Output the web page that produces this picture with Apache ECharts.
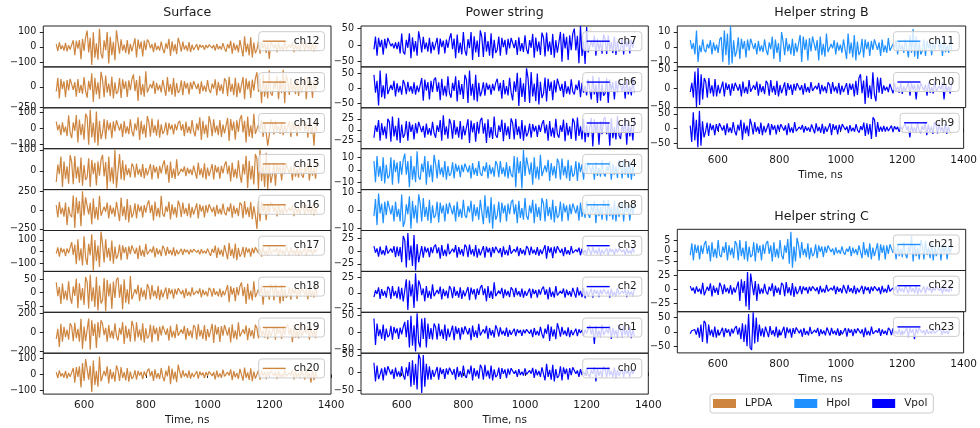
<!DOCTYPE html>
<html><head><meta charset="utf-8">
<script src="https://cdn.jsdelivr.net/npm/echarts@6/dist/echarts.min.js"></script>
<style>html,body{margin:0;padding:0;background:#fff}#c{width:980px;height:428px}</style>
</head><body><div id="c"></div>
<script>
// ---------- data ----------
const timeStart = 510;   // ns, first sample
const sampleStep = 5;    // ns between samples
const timeTicks = [600, 800, 1000, 1200, 1400];

const surfaceChannels = ['ch12','ch13','ch14','ch15','ch16','ch17','ch18','ch19','ch20'];
const powerChannels   = ['ch7','ch6','ch5','ch4','ch8','ch3','ch2','ch1','ch0'];
const helperBChannels = ['ch11','ch10','ch9'];
const helperCChannels = ['ch21','ch22','ch23'];
const antennaTypes = ['LPDA','Hpol','Vpol'];
const hpolChannels = ['ch4','ch8','ch11','ch21'];

const ch12 = [18,-27,30,-15,9,-24,27,-30,12,-18, -22,44,-55,40,-12,45,-81,54,-27,63, 108,-36,60,-120,96,-72,24,-84,120,-48, -77,44,-22,99,-110,66,-55,33,-88,110, 30,-45,50,-25,15,-40,45,-50,20,-30, -28,56,-70,49,-14,35,-63,42,-21,49, 32,-10,18,-35,28,-21,7,-24,35,-14, -42,24,-12,54,-60,36,-30,18,-48,60, 21,-32,35,-18,10,-28,32,-35,14,-21, -9,18,-22,15,-4,11,-20,13,-7,15, 22,-8,12,-25,20,-15,5,-18,25,-10, -32,18,-9,40,-45,27,-22,14,-36,45, 42,-63,70,-35,21,-56,63,-70,28,-42, -18,36,-45,32,-9,22,-40,27,-80,32, 32,-10,18,-35,28,-21,7,-24,35,-14, -24,14,-7,32,-35,21,-18,10,-28,35, 18,-27,30,-15,9,-24,27,-30,12,-18];
const ch13 = [-56,112,-140,98,-28,70,-126,84,-42,98, 108,-36,60,-120,96,-72,24,-84,120,-48, -130,74,-37,166,-185,111,-92,56,-148,185, 84,-126,140,-70,42,-112,126,-140,56,-84, -54,108,-135,94,-27,68,-122,81,-40,94, 153,-51,85,-170,136,-102,34,-119,190,-68, -60,34,-17,76,-85,51,-42,26,-68,85, 72,-108,120,-60,36,-96,108,-120,48,-72, -40,80,-100,70,-20,50,-90,60,-30,70, 76,-26,42,-85,68,-51,17,-60,85,-34, -74,42,-21,94,-105,63,-52,32,-84,105, 75,-112,125,-62,38,-100,112,-125,50,-75, -60,120,-150,105,-30,75,-135,90,-45,105, 180,-60,100,-200,160,-120,40,-140,205,-80, -105,60,-30,135,-150,90,-75,210,-198,150, 66,-99,110,-55,33,-88,99,-110,44,-66, -60,120,-150,105,-30,75,-135,90,-45,105];
const ch14 = [40,-14,22,-45,36,-27,9,-50,80,-30, -63,36,-18,81,-90,54,-45,27,-72,90, 69,-104,115,-58,35,-92,104,-110,46,-69, -28,56,-70,49,-14,35,-63,42,-21,49, 50,-16,28,-55,44,-33,11,-38,55,-22, -52,30,-15,68,-75,45,-38,22,-60,75, 36,-54,60,-30,18,-48,54,-60,24,-36, -18,36,-45,32,-9,22,-40,27,-14,32, 45,-15,25,-50,40,-30,10,-35,50,-20, -52,30,-15,68,-75,45,-38,22,-60,75, 33,-50,55,-28,16,-44,50,-55,22,-33, -32,64,-80,56,-16,40,-72,48,-24,56, 81,-27,45,-90,72,-54,18,-63,90,-36, -38,22,-11,50,-55,33,-28,-110,-44,55, 27,-40,45,-22,14,-36,40,-45,18,-27, -22,44,-55,38,-11,28,-50,33,-16,38, 54,-18,30,-60,48,-36,12,-110,60,-24];
const ch15 = [-52,30,-15,68,-75,45,-38,22,-60,75, 42,-63,70,-35,21,-56,63,-70,28,-42, -30,60,-75,52,-15,38,-68,45,-22,52, 76,-26,42,-85,68,-51,17,-60,100,-80, -85,80,-40,50,-45,30,-20,12,-30,35, 21,-32,35,-18,10,-28,32,-35,14,-21, -16,32,-40,28,-8,20,-36,24,-12,28, 50,-16,28,-55,44,-33,11,-38,55,-22, -18,10,-5,22,-25,15,-12,8,-20,25, 24,-36,40,-20,12,-32,36,-40,16,-24, -16,32,-40,28,-8,20,-36,24,-12,28, 45,-15,25,-50,40,-30,10,-35,50,-20, -56,32,-16,72,-80,48,-40,24,-64,80, 57,-85,102,-48,28,-76,86,-85,38,-57, -20,40,-70,35,-10,25,-45,30,-15,35, 40,-14,22,-45,36,-27,9,-32,45,-18, -32,18,-9,40,-45,27,-22,14,-36,45];
const ch16 = [66,-99,110,-55,33,-88,99,-200,44,-66, -96,192,-240,168,-48,120,-216,250,-72,168, 171,-57,95,-190,152,-114,38,-133,190,-76, -77,44,-22,99,-110,66,-55,33,-88,110, 99,-148,165,-82,50,-132,148,-165,66,-99, -44,88,-110,77,-22,55,-99,66,-33,77, 126,-42,70,-140,112,-84,28,-98,190,-56, -88,50,-25,112,-125,75,-62,38,-100,125, 60,-90,100,-50,30,-80,90,-100,40,-60, -44,88,-110,77,-22,55,-99,66,-33,77, 76,-26,42,-85,68,-51,17,-60,85,-34, -70,40,-20,90,-100,60,-50,30,-80,100, 72,-108,120,-60,36,-96,108,-120,48,-72, -250,120,-150,105,-30,75,-135,90,-45,105, 76,-26,42,-85,68,-51,17,-60,85,-34, -56,32,-16,72,-80,48,-40,24,-64,80, 42,-63,70,-35,21,-56,63,-70,28,-42];
const ch17 = [-18,36,-45,32,-9,22,-40,27,-14,32, 80,-30,60,-110,104,-78,26,-120,130,-52, -115,66,-33,148,-165,99,-82,50,-132,170, 63,-94,105,-52,32,-84,94,-105,42,-63, -30,60,-75,52,-15,38,-68,45,-22,52, 58,-20,32,-65,52,-39,13,-46,65,-26, -35,20,-10,45,-50,30,-25,15,-40,50, 24,-36,40,-20,12,-32,36,-40,16,-24, -11,22,-28,20,-6,14,-25,17,-8,20, 22,-8,12,-25,20,-15,5,-18,25,-10, -38,22,-11,50,-55,33,-28,16,-44,55, 45,-68,75,-38,22,-60,68,-75,30,-45, -20,40,-50,35,-10,25,-45,30,-15,35, 40,-14,22,-45,36,-27,9,-32,45,-18, -27,15,-8,34,-38,23,-19,11,-30,38, 21,-32,35,-18,10,-28,32,-35,14,-21, -14,28,-35,24,-7,18,-32,21,-10,24];
const ch18 = [38,-13,21,-42,34,-25,8,-29,42,-17, -41,23,-12,52,-58,35,-29,17,-46,58, 40,-59,66,-33,20,-53,59,-66,26,-40, -27,54,-68,48,-14,34,-61,41,-20,48, 56,-19,31,-62,50,-37,12,-43,62,-25, -22,13,-6,29,-32,19,-16,10,-26,32, 17,-25,28,-14,8,-22,25,-28,11,-17, -10,19,-24,17,-5,12,-22,14,-7,17, 18,-6,10,-20,16,-12,4,-14,20,-8, -13,7,-4,16,-18,11,-9,5,-14,18, 10,-15,17,-8,5,-14,15,-17,7,-10, -14,28,-35,24,-7,18,-32,21,-10,24, 38,-13,21,-42,34,-25,8,-29,42,-17, -22,13,-6,29,-45,19,-16,10,-26,32, 19,-29,32,-16,10,-40,29,-32,13,-19, -10,21,-26,18,-5,13,-23,16,-8,18, 22,-8,12,-25,20,-15,5,-18,25,-10];
const ch19 = [-66,38,-150,90,-95,57,-48,28,-76,95, 60,-90,100,-60,36,-96,140,-170,60,-90, -72,144,-180,126,-36,90,-162,108,-54,126, 86,-28,48,-95,76,-57,19,-66,95,-38, -84,48,-24,108,-120,72,-60,36,-96,120, 63,-94,105,-52,32,-84,94,-105,42,-63, -40,80,-100,70,-20,50,-90,60,-30,70, 76,-26,42,-85,68,-51,17,-60,85,-34, -52,30,-15,68,-75,45,-38,22,-60,75, 51,-76,85,-42,26,-68,76,-85,34,-51, -44,88,-110,77,-22,55,-99,66,-33,77, 94,-32,52,-105,84,-63,21,-74,105,-42, -56,32,-16,72,-80,48,-40,24,-64,80, 42,-63,70,-35,21,-56,63,-70,28,-42, -30,60,-75,52,-15,38,-68,45,-22,52, 81,-27,45,-100,72,-54,18,-63,90,-36, -52,30,-15,68,-75,45,-38,22,-60,75];
const ch20 = [15,-22,25,-12,8,-20,22,-25,10,-15, -20,40,-50,45,-15,50,-80,70,-40,95, 97,-32,54,-108,86,-65,22,-76,110,-43, -38,22,-11,50,-55,33,-28,16,-44,55, 27,-40,45,-22,14,-36,40,-45,18,-27, -13,26,-32,22,-6,16,-29,19,-10,22, 36,-12,20,-40,32,-24,8,-28,40,-16, -42,24,-12,54,-60,36,-30,18,-48,60, 16,-23,26,-13,8,-21,23,-26,10,-16, -10,20,-25,18,-5,12,-22,15,-8,18, 27,-9,15,-30,24,-18,6,-21,30,-12, -24,14,-7,32,-35,21,-18,10,-28,35, 25,-38,42,-21,13,-34,38,-42,17,-25, -13,26,-32,22,-6,16,-29,19,-10,22, 25,-8,14,-28,22,-17,6,-20,28,-11, -21,12,-6,27,-30,18,-15,9,-24,30, 21,-32,35,-18,10,-50,32,-35,14,-21];

const ch7 = [-13,26,-32,22,-6,16,-29,19,-10,22, 9,-3,5,-10,8,-12,10,-25,35,-20, -28,16,-8,36,-40,24,-20,12,-32,42, 15,-22,25,-12,8,-20,22,-25,10,-15, -11,22,-28,20,-6,14,-25,17,-8,20, 36,-12,20,-40,32,-24,8,-28,40,-16, -32,18,-9,40,-45,27,-22,14,-36,45, 24,-36,40,-20,12,-32,36,-40,16,-24, -13,26,-32,22,-6,16,-29,19,-10,22, 27,-9,15,-30,24,-18,6,-21,30,-12, -27,15,-8,34,-38,23,-19,11,-30,38, 23,-34,38,-19,11,-30,34,-38,15,-23, -20,40,-50,35,-10,25,-45,30,-15,35, 50,-16,28,-55,58,-33,11,-57,55,-22, -22,13,-6,29,-32,19,-16,10,-26,32, 18,-27,30,-15,9,-24,27,-30,12,-18, -11,22,-28,20,-6,14,-25,17,-8,20];
const ch6 = [45,-15,25,-58,60,-30,10,-35,50,-20, -20,11,-6,25,-28,17,-14,8,-22,28, 13,-20,22,-11,7,-18,20,-22,9,-13, -17,34,-42,29,-8,21,-38,25,-13,29, 36,-12,20,-40,32,-24,8,-28,40,-16, -32,18,-9,40,-45,27,-22,14,-36,45, 30,-50,60,-25,15,-40,45,-45,18,-27, -10,20,-25,18,-5,12,-22,15,-8,18, 32,-10,18,-35,28,-21,7,-24,35,-14, -41,23,-12,52,-60,35,-29,17,-46,67, 33,-50,55,-28,16,-44,50,-55,22,-33, -18,36,-45,32,-9,22,-40,27,-14,32, 27,-9,15,-30,24,-18,6,-21,30,-12, -21,12,-6,27,-30,18,-15,9,-24,30, 25,-38,42,-21,13,-50,38,-42,17,-25, -17,34,-50,29,-8,21,-38,25,-13,29, 32,-10,18,-35,28,-21,7,-24,35,-14];
const ch5 = [-18,10,-5,22,-25,15,-12,8,-20,25, 18,-27,30,-15,9,-24,27,-30,12,-18, -10,20,-25,18,-5,12,-22,15,-8,18, 16,-5,9,-18,14,-11,4,-13,18,-7, -18,10,-5,22,-25,33,-12,8,-20,25, 13,-20,22,-11,7,-18,20,-22,9,-13, -12,24,-30,21,-6,15,-27,18,-9,21, 27,-9,15,-30,24,-18,6,-21,30,-12, -18,10,-5,23,-26,16,-13,8,-21,26, 15,-22,25,-12,8,-20,22,-25,10,-15, -7,14,-18,13,-4,9,-16,11,-5,13, 22,-8,12,-25,20,-15,5,-18,25,-10, -18,10,-5,23,-26,16,-13,8,-21,26, 17,-25,28,-14,8,-22,25,-28,11,-17, -14,27,-38,24,-7,17,-34,20,-10,24, 29,-10,16,-36,26,-19,6,-22,32,-13, -21,12,-6,27,-34,18,-15,9,-24,30];
const ch4 = [7,-10,11,-5.5,3,-9,10,-11,4,-7, -5,10,-12,8,-2,6,-11,7,-4,8, 13,-4,7,-14,11,-8,3,-10,15,-6, -8,5,-2,11,-12,7,-6,4,-10,12, 5,-7,8,-4,2,-6,7,-8,3,-5, -3,6,-7,5,-1.5,3.5,-6,4,-2,5, 6,-2,3.5,-7,5.5,-4,1.5,-5,7,-3, -5,3,-1.5,6,-7,4,-3.5,2,-5.5,7, 4,-6,7,-3.5,2,-5.5,6,-7,3,-4, -6,11,-14,10,-3,7,-15,16,-5,10, 11,-4,6,-12,10,-7,2.5,-8,12,-5, -6,3.5,-2,8,-9,5.5,-4.5,3,-7,9, 5.5,-8,9,-4.5,3,-7,8,-9,3.5,-5.5, -3.5,7,-9,6,-2,4.5,-8,5.5,-3,6, 7,-2.5,4,-8,6.5,-5,1.5,-5.5,8,-3, -5.5,3,-1.5,7,-8,5,-4,2.5,-6.5,8, 5,-7,8,-4,2.5,-6.5,7,-8,3,-5];
const ch8 = [-3,6.5,-8,9.5,-1.5,4,-7,5,-2.5,5.5, 5,-2,3,-6,5,-3.5,1,-6,9,-9, -6,3.5,-2,8,-10,5.5,-4.5,3,-7,9, 4,-6,7,-3.5,2,-5.5,6,-7,3,-4, -2.5,5,-6.5,4.5,-1.5,3,-6,4,-2,4.5, 5.5,-2,3,-6,5,-3.5,1,-4,6,-2.5, -4,2.5,-1,5.5,-6,3.5,-3,2,-5,6, 5,-7.5,8.5,-4,2.5,-7,7.5,-10,3.5,-5, -2.5,5,-6.5,4.5,-1.5,3,-6,4,-2,4.5, 6,-2,3.5,-7,5.5,-4,1.5,-5,7,-3, -5,3,-1.5,6,-7,4,-3.5,2,-5.5,7, 4,-6,6.5,-3,2,-5,6,-6.5,2.5,-4, -2.5,5,-6,4,-1,3,-5.5,3.5,-2,4, 5,-1.5,3,-5.5,4.5,-3.5,1,-4,5.5,-2, -4,2.5,-1,5.5,-7,3.5,-3,2,-5,6, 3.5,-5.5,6,-3,2,-5,5.5,-6,2.5,-3.5, -2.5,5,-6,4,-1,3,-5.5,3.5,-2,4];
const ch3 = [10,-3,5.5,-11,9,-6.5,2,-8,11,-4.5, -8,5,-3,10,-12,9,-10,8,-22,30, 22,-32,36,-18,11,-29,32,-38,14,-22, -5,10,-13,9,-2.5,6.5,-12,8,-4,9, 13,-4.5,7.5,-15,12,-9,3,-10,15,-6, -9,5,-2.5,12,-13,8,-6.5,4,-10,13, 8,-12,13,-6.5,4,-10,12,-13,5,-8, -5,10,-13,9,-2.5,6.5,-12,8,-4,9, 11,-3.5,6,-12,9.5,-7,2.5,-8.5,12,-5, -7,4,-2,9,-10,6,-5,3,-8,10, 5.5,-8,9,-4.5,3,-7,8,-9,3.5,-5.5, -6,12,-15,10,-3,7.5,-14,9,-4.5,10, 9,-3,5,-10,8,-6,2,-7,10,-4, -5.5,3,-1.5,7,-8,5,-4,2.5,-6.5,8, 5,-7,8,-4,2.5,-6.5,7,-8,3,-5, -3,6.5,-8,5.5,-1.5,4,-7,5,-2.5,5.5, 6.5,-2,3.5,-7,5.5,-4,1.5,-5,7,-3];
const ch2 = [-7,4,-2,9,-10,6,-5,3,-8,10, 6.5,-10,11,-5.5,3,-9,10,-11,8,-14, -11,22,-28,20,-6,14,-25,32,-14,20, 12.5,-4,7,-14,11,-8.5,3,-10,14,-5.5, -8,4.5,-2,10,-11,6.5,-5.5,3.5,-9,11, 6,-9,10,-5,3,-8,9,-10,4,-6, -5,9.5,-12,8.5,-2.5,6,-11,7,-3.5,8.5, 12.5,-4,7,-14,11,-8.5,3,-10,17,-5.5, -6.5,3.5,-2,8,-9,5.5,-4.5,3,-7,9, 5,-7,8,-4,2.5,-6.5,7,-8,3,-5, -3.5,7,-9,6.5,-2,4.5,-8,5.5,-3,6.5, 10,-3.5,5.5,-11,9,-6.5,2,-8,11,-4.5, -5.5,3,-1.5,7,-8,5,-4,2.5,-6.5,8, 5.5,-8,9,-4.5,3,-7,8,-9,3.5,-5.5, -3,6.5,-8,5.5,-1.5,4,-7,5,-2.5,5.5, 7,-2.5,4,-8,6.5,-5,1.5,-5.5,8,-3, -5,3,-1.5,6,-7,4,-3.5,2,-5.5,7];
const ch1 = [40,-38,25,-12,8,-20,22,-25,10,-15, -9,18,-22,15,-4,11,-20,13,-7,15, 30,-15,35,-45,48,-40,20,-57,55,-30, -45,40,-20,42,-45,25,-20,12,-22,25, 15,-22,25,-12,8,-20,22,-25,10,-15, -10,19,-24,17,-5,12,-22,14,-7,17, 22,-7,12,-24,19,-14,5,-17,24,-10, -14,8,-4,18,-20,12,-10,6,-16,20, 8,-13,14,-7,4,-11,13,-14,6,-8, -5,10,-12,8,-2.5,6,-11,7,-3.5,8, 13.5,-4.5,7.5,-15,12,-9,3,-10.5,15,-6, -18,10,-5,23,-26,16,-13,8,-21,26, 9,-13.5,15,-7.5,4.5,-12,13.5,-15,6,-9, -5,10,-12,8,-2.5,6,-11,7,-3.5,8, 20,-6.5,11,-35,18,-13,4,-15,22,-9, -14,8,-4,18,-20,12,-10,6,-16,20, 11,-16,18,-9,5.5,-14,16,-18,7,-11];
const ch0 = [28,-25,20,-18,-5,12,-22,15,-8,18, 16,-5.5,9,-18,14,-11,3.5,-12.5,18,-7, -20,15,-10,30,-40,35,-35,25,-48,52, 40,-58,50,-40,25,-20,18,-20,8,-12, -8,16,-20,14,-4,10,-18,12,-6,14, 18,-6,10,-20,16,-12,4,-14,20,-8, -15,9,-4.5,20,-22,13,-11,6.5,-17.5,22, 13,-20,22,-11,6.5,-17.5,20,-22,9,-13, -7,14,-18,12.5,-3.5,9,-16,11,-5.5,12.5, 11,-3.5,6,-12,9.5,-7,2.5,-8.5,12,-5, -10.5,6,-3,13.5,-15,9,-7.5,4.5,-12,15, 15,-22,25,-12,8,-20,22,-25,10,-15, -9,18,-22,15,-4,11,-20,13,-7,15, 11,-3.5,6,-12,9.5,-7,2.5,-8.5,12,-5, -12.5,7,-3.5,16,-25,11,-9,5.5,-14,18, 9.5,-14,16,-8,5,-13,14,-16,6.5,-9.5, -5,10,-13,9,-2.5,6.5,-12,8,-4,9];

const ch11 = [4.5,-1.5,2.5,-5,11,-10,1,-3.5,5,-2, -3.5,2,-1,4.5,-5,3,-2.5,1.5,-4,5, 6.5,-10,11,-5.5,9,-12,14,-11,4.5,-6.5, -3,6.5,-8,5.5,-1.5,4,-7,5,-2.5,5.5, 4.5,-1.5,2.5,-5,4,-3,1,-3.5,5,-2, -5.5,3,-1.5,7,-8,5,-4,2.5,-10,10, 3.5,-5.5,6,-3,2,-5,5.5,-6,2.5,-3.5, -4,8,-10,7,-2,5,-9,6,-3,7, 8,-2.5,4.5,-9,7,-5.5,2,-6.5,9,-3.5, -3.5,2,-1,4.5,-5,3,-2.5,1.5,-4,5, 5.5,-8,9,-4.5,3,-7,8,-9,3.5,-5.5, -3,5.5,-7,5,-1.5,3.5,-6,4,-2,5, 5.5,-2,3,-6,5,-3.5,1,-4,6,-2.5, -3.5,2,-1,4.5,-5,3,-2.5,1.5,-4,5, 5,-7,8,-4,12,-6.5,7,-8,3,-5, -2.5,5,-6,4,-1,3,-5.5,3.5,-2,4, 5.5,-2,3,-6,5,-3.5,1,-4,6,-2.5];
const ch10 = [-10,15,-25,45,-50,55,-45,38,-30,28, 17,-25,28,-14,8,-22,25,-22,9,-14, -9,18,-22,15,-4,11,-20,13,-7,15, 20,-6.5,11,-22,18,-13,4,-15,22,-9, -14,8,-4,18,-20,12,-10,6,-16,20, 13,-20,22,-11,6.5,-18,20,-22,9,-13, -8,16,-20,14,-4,10,-18,12,-6,14, 15,-5,8.5,-17,13.5,-10,3.5,-12,17,-7, -11,6.5,-3,14.5,-16,9.5,-8,5,-13,16, 10,-15,17,-8.5,5,-13.5,15,-17,7,-10, -7,14,-18,13,-4,12,-22,20,-18,28, 38,-13,21,-42,34,-25,8,-29,43,-17, -35,30,-12,28,-15,8,-6,4,-10,12, 9,-13.5,15,-7.5,4.5,-12,13.5,-15,6,-9, -8,16,-20,14,-4,10,-30,12,-6,14, 18,-6,10,-20,16,-12,4,-14,20,-8, -12.5,7,-3.5,16,-30,11,-9,5.5,-14,18];
const ch9 = [10,-45,55,-40,30,-63,60,-58,25,-30, -10,20,-25,18,-5,12,-22,15,-8,18, 20,-6.5,11,-22,18,-13,4,-15,22,-9, -23,13,-6.5,30,-38,20,-16,10,-26,33, 13,-20,22,-11,6.5,-18,20,-22,9,-13, -9,18,-22,15,-4,11,-20,13,-7,15, 20,-6.5,11,-22,18,-13,4,-15,22,-9, -10,5.5,-3,12.5,-14,8.5,-7,4,-11,14, 11,-16,18,-9,5.5,-14,16,-18,7,-11, -9,18,-22,15,-4,11,-20,13,-7,15, 13.5,-4.5,7.5,-15,12,-9,3,-10.5,15,-6, -14,8,-5,20,-25,18,-20,15,-35,38, 30,-28,22,-11,6.5,-10,9,-10,6,-8, -5,10,-12,8,-2.5,6,-11,7,-3.5,8, 16,-5.5,9,-30,14,-11,3.5,-12.5,18,-7, -15,9,-4.5,20,-22,13,-11,6.5,-18,22, 11,-16,18,-9,5.5,-14,16,-18,7,-11];
const ch21 = [-2,3.5,-4.5,3,-1,2.5,-4,2.5,-1.5,3, 4.5,-1.5,2.5,-5,4,-3,1,-3.5,5,-2, -3,2,-1,4,-4.5,2.5,-2,1.5,-3.5,4.5, 3,-4.5,5,-2.5,1.5,-4,4.5,-5,2,-3, -2,4,-5,3.5,-1,2.5,-4.5,3,-1.5,3.5, 4.5,-1.5,2.5,-5,4,-3,1,-3.5,5,-2, -4,2.5,-1,5.5,-6,8.8,-7.9,2,-5,6, 2.5,-3.5,4,-2,1,-3,3.5,-4,1.5,-2.5, -1.5,3,-3.5,2.5,-0.5,2,-3,2,-1,2.5, 1.8,-0.6,1,-2,1.6,-1.2,0.4,-1.4,2,-0.8, -1.8,1,-0.5,2.2,-2.5,1.5,-1.2,0.8,-2,2.5, 2.5,-3.5,4,-2,1,-3,3.5,-4,1.5,-2.5, -2,3.5,-4.5,3,-1,2.5,-4,2.5,-1.5,3, 3.5,-1,2,-4,3,-2.5,1,-3,4,-1.5, -3.5,2,-1,7,-5,3,-2.5,1.5,-4,5, 2.5,-4,4.5,-2,1.5,-3.5,4,-4.5,2,-2.5, -2,3.5,-4.5,3,-1,2.5,-4,2.5,-1.5,3];
const ch22 = [6,-2,3.5,-7,5.5,-4,1.5,-8,12,-10, -8.5,5,-2.5,11,-12,7,-6,3.5,-9.5,12, 5.5,-8,9,-4.5,3,-7,8,-9,3.5,-5.5, -8,14,-20,18,-6,15,-30,31,-36,28, 25,-10,15,-20,10,-8,2,-7,10,-4, -8.5,5,-2.5,11,-12,7,-6,3.5,-9.5,12, 8,-11.5,13,-6.5,4,-10.5,11.5,-13,5,-8, -3,6.5,-8,5.5,-1.5,4,-7,5,-2.5,5.5, 7,-2.5,4,-8,6.5,-5,1.5,-5.5,8,-3, -5.5,3,-1.5,7,-8,5,-4,2.5,-6.5,8, 5,-7,8,-4,2.5,-6.5,7,-8,3,-5, -3,6.5,-8,5.5,-1.5,4,-7,5,-2.5,5.5, 7,-2.5,4,-8,6.5,-5,1.5,-5.5,8,-3, -5,3,-1.5,6,-7,4,-3.5,2,-5.5,7, 5,-7,8,-4,2.5,-6.5,7,-8,3,-5, -3,5.5,-7,5,-1.5,3.5,-6,4,-2,5, 6.5,-2,3.5,-7,5.5,-4,1.5,-5,7,-3];
const ch23 = [-6,4,-2,8,-10,15,-20,25,-35,38, 30,-40,25,-12,8,-18,18,-20,8,-12, -7,14,-18,12.5,-3.5,9,-16,11,-5.5,12.5, 20,-10,15,-25,30,-35,25,-50,62,-55, -63,68,-40,50,-35,25,-15,12,-18,18, 12,-18,20,-10,6,-16,18,-20,8,-12, -9,17.5,-22,15.5,-4.5,11,-20,13,-6.5,15.5, 15,-5,8.5,-17,13.5,-10,3.5,-12,17,-7, -10.5,6,-3,13.5,-15,9,-7.5,4.5,-12,15, 8.5,-12.5,14,-7,4,-11,12.5,-14,5.5,-8.5, -7,13.5,-17,12,-3.5,8.5,-15,10,-5,12, 16,-5.5,9,-18,14.5,-11,3.5,-12.5,18,-7, -10,5.5,-3,12.5,-14,8.5,-7,4,-11,14, 7,-11,12,-6,3.5,-9.5,11,-12,5,-7, -7,14,-18,12.5,-3.5,9,-25,11,-5.5,12.5, 10,-3.5,5.5,-11,9,-6.5,2,-7.5,11,-4.5, -7,4,-2,9,-10,6,-5,3,-8,10];

// y-axis limits and tick labels per channel
const yLimits = {
  ch12:[-132,138], ch13:[-255,245], ch14:[-129,127], ch15:[-88,105], ch16:[-272,272],
  ch17:[-171,180], ch18:[-73,79], ch19:[-215,208], ch20:[-121,131],
  ch7:[-66,58], ch6:[-66,72], ch5:[-43,50], ch4:[-16,17], ch8:[-11,11.7],
  ch3:[-40,41], ch2:[-32,35], ch1:[-62,58], ch0:[-61,55],
  ch11:[-13.3,14], ch10:[-52,58], ch9:[-67,71],
  ch21:[-9.2,10], ch22:[-39,33.5], ch23:[-73,70]
};
const yTickValues = {
  ch12:[-100,0,100], ch13:[-250,0], ch14:[-100,0,100], ch15:[0,100], ch16:[-250,0,250],
  ch17:[-100,0,100], ch18:[-50,0,50], ch19:[-200,0,200], ch20:[-100,0,100],
  ch7:[-50,0,50], ch6:[-50,0,50], ch5:[-25,0,25], ch4:[-10,0,10], ch8:[-10,0,10],
  ch3:[-25,0,25], ch2:[-25,0,25], ch1:[-50,0,50], ch0:[-50,0,50],
  ch11:[-10,0,10], ch10:[-50,0,50], ch9:[-50,0,50],
  ch21:[-5,0,5], ch22:[-25,0,25], ch23:[-50,0,50]
};

const waveforms = {ch0,ch1,ch2,ch3,ch4,ch5,ch6,ch7,ch8,ch9,ch10,ch11,ch12,ch13,ch14,ch15,ch16,ch17,ch18,ch19,ch20,ch21,ch22,ch23};

// ---------- styles / layout ----------
const FONT = 'DejaVu Sans';
const TXT = '#1a1a1a';
const typeColors = {LPDA:'#CD853F', Hpol:'#1E90FF', Vpol:'#0000FF'};
function kindOf(ch){
  if (surfaceChannels.includes(ch)) return 'LPDA';
  return hpolChannels.includes(ch) ? 'Hpol' : 'Vpol';
}
const columns = [
  {title:'Surface', channels:surfaceChannels, left:43.3, width:287.7, top:26, rowH:40.9},
  {title:'Power string', channels:powerChannels, left:361, width:287.3, top:26, rowH:40.9},
  {title:'Helper string B', channels:helperBChannels, left:677.3, width:288.4, top:26, rowH:40.8},
  {title:'Helper string C', channels:helperCChannels, left:677.3, width:288.4, top:229.3, rowH:41.2}
];
const fmt = v => v < 0 ? '\u2212' + Math.abs(v) : String(v);

const grid = [], xAxis = [], yAxis = [], series = [], legend = [], title = [];
columns.forEach(col => {
  title.push({text:col.title, left:col.left + col.width/2, top:col.top - 19.5, textAlign:'center', padding:0,
    textStyle:{fontSize:12.6, fontWeight:'normal', color:TXT, fontFamily:FONT}});
  col.channels.forEach((ch, r) => {
    const gi = grid.length;
    const top = col.top + r*col.rowH;
    const isBottom = r === col.channels.length - 1;
    grid.push({left:col.left, top:top, width:col.width, height:col.rowH, show:true,
      borderColor:'#222', borderWidth:1, backgroundColor:'transparent'});
    xAxis.push({type:'value', gridIndex:gi, min:468, max:1400, show:isBottom,
      axisLine:{show:false}, splitLine:{show:false},
      axisTick:{show:true, length:3.5, customValues:timeTicks, lineStyle:{color:'#222'}},
      axisLabel:{customValues:timeTicks, formatter:v => String(v), fontSize:10.5, color:TXT, fontFamily:FONT, margin:6},
      name:isBottom ? 'Time, ns' : '', nameLocation:'middle', nameGap:21,
      nameTextStyle:{fontSize:10.5, color:TXT, fontFamily:FONT}});
    yAxis.push({type:'value', gridIndex:gi, min:yLimits[ch][0], max:yLimits[ch][1],
      axisLine:{show:false}, splitLine:{show:false},
      axisTick:{show:true, length:3.5, customValues:yTickValues[ch], lineStyle:{color:'#222'}},
      axisLabel:{customValues:yTickValues[ch], formatter:fmt, fontSize:9.6, color:TXT, fontFamily:FONT, margin:7}});
    const color = typeColors[kindOf(ch)];
    series.push({name:ch, type:'line', xAxisIndex:gi, yAxisIndex:gi, symbol:'none', showSymbol:false,
      silent:true, animation:false, clip:true,
      lineStyle:{color:color, width:1.2}, itemStyle:{color:color},
      data:waveforms[ch].map((v,i) => [timeStart + i*sampleStep, v])});
    legend.push({data:[ch], right:980 - (col.left + col.width - 6.5), top:top + 5.7,
      icon:'rect', itemWidth:23, itemHeight:1.4, padding:[4,5,4,4], selectedMode:false,
      backgroundColor:'rgba(255,255,255,0.8)', borderColor:'#cccccc', borderWidth:1, borderRadius:3,
      textStyle:{fontSize:10.5, color:TXT, fontFamily:FONT, padding:[0,0,0,3]}});
  });
});
antennaTypes.forEach(t => {
  series.push({name:t, type:'line', xAxisIndex:0, yAxisIndex:0, data:[], symbol:'none',
    itemStyle:{color:typeColors[t]}, lineStyle:{color:typeColors[t]}});
});
legend.push({data:antennaTypes, left:710, top:394, icon:'rect', itemWidth:23, itemHeight:9, itemGap:22,
  padding:[4,6,4,3], selectedMode:false,
  backgroundColor:'#fff', borderColor:'#cccccc', borderWidth:1, borderRadius:3,
  textStyle:{fontSize:10.5, color:TXT, fontFamily:FONT, padding:[0,0,0,4]}});

const chart = echarts.init(document.getElementById('c'), null, {renderer:'canvas'});
chart.setOption({animation:false, backgroundColor:'#fff', textStyle:{fontFamily:FONT},
  title, grid, xAxis, yAxis, series, legend});
</script></body></html>
